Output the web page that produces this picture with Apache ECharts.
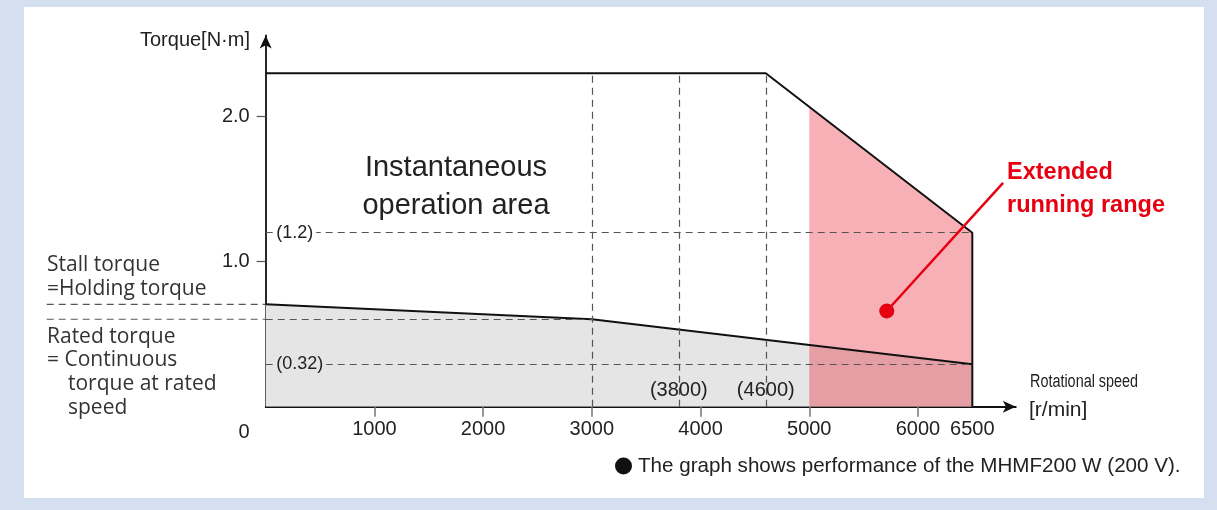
<!DOCTYPE html>
<html><head><meta charset="utf-8">
<script src="https://cdn.jsdelivr.net/npm/echarts@6/dist/echarts.min.js"></script>
<style>html,body{margin:0;padding:0;background:#d4dff0;}#c{width:1217px;height:510px;}</style>
</head><body><div id="c"></div>
<script>
// ---- data ----
const peakCurve = [[0, 2.3], [4600, 2.3], [6500, 1.2], [6500, 0]];
const continuousCurve = [[0, 0.706], [3000, 0.603], [6500, 0.292]];
const extendedRange = [[5000, 2.068], [6500, 1.2]];
const speedMarks = [3000, 3800, 4600];
const speedMarkLabels = [null, '(3800)', '(4600)'];
const xTickLabels = [1000, 2000, 3000, 4000, 5000, 6000, 6500];
const xTicks = [1000, 2000, 3000, 4000, 5000, 6000];
const yTickLabels = [1.0, 2.0];
const peakTorque = 2.3;
const stallTorque = 0.706;
const ratedTorque = 0.603;
const ratedSpeed = 3000;
const maxSpeed = 6500;
const refTorques = [1.2, 0.292];
const refTorqueLabels = ['(1.2)', '(0.32)'];
const calloutFrom = [5713, 0.66];
const calloutTo = [6783, 1.543];

// ---- styles ----
const FONT = "'Liberation Sans', Arial, sans-serif";
const HUM = "'Open Sans', 'Noto Sans', sans-serif";
const RED = '#e60012';
const DASH = {color: '#555', width: 1.2, type: [7, 5]};
const X_MAX = 6900, Y_MAX = 2.56;
const grid = {left: 265.7, top: 35.5, bottom: 103.3, width: 750.1};

const dashedLines = [];
speedMarks.forEach(s => dashedLines.push([{coord: [s, 0]}, {coord: [s, peakTorque]}]));
refTorques.forEach(t => dashedLines.push([{coord: [0, t]}, {coord: [maxSpeed, t]}]));
dashedLines.push([{coord: [0, ratedTorque]}, {coord: [ratedSpeed, ratedTorque]}]);

const labelPoints = [];
speedMarks.forEach((s, i) => {
  if (speedMarkLabels[i]) labelPoints.push({coord: [s, 0.115], label: {formatter: speedMarkLabels[i], position: 'inside'}});
});
refTorques.forEach((t, i) => {
  labelPoints.push({coord: [0, t], label: {formatter: refTorqueLabels[i], position: 'right', distance: 7,
    backgroundColor: i === 0 ? '#fff' : '#e5e5e5', padding: [0, 3], fontSize: 18}});
});

const chart = echarts.init(document.getElementById('c'), null, {renderer: 'canvas'});
chart.setOption({
  animation: false,
  backgroundColor: '#d4dff0',
  textStyle: {fontFamily: FONT},
  grid: [
    Object.assign({}, grid),
    {left: 46.7, top: 35.5, bottom: 103.3, width: 219}
  ],
  xAxis: [{
    type: 'value', min: 0, max: X_MAX, gridIndex: 0,
    axisLine: {lineStyle: {color: '#111', width: 1.8}, symbol: ['none', 'arrow'], symbolSize: [9, 13]},
    axisTick: {show: true, customValues: xTicks, length: 10, lineStyle: {color: '#777', width: 1.5}},
    axisLabel: {customValues: xTickLabels, fontSize: 20, color: '#222', margin: 13, fontFamily: FONT,
      formatter: v => String(v)},
    splitLine: {show: false}
  }, {
    type: 'value', min: 0, max: 1, gridIndex: 1, show: false
  }],
  yAxis: [{
    type: 'value', min: 0, max: Y_MAX, gridIndex: 0,
    axisLine: {show: true, lineStyle: {color: '#111', width: 1.8}, symbol: ['none', 'arrow'], symbolSize: [9, 13]},
    axisTick: {show: true, customValues: yTickLabels, length: 9, lineStyle: {color: '#555', width: 1.2}},
    axisLabel: {customValues: yTickLabels, fontSize: 20, color: '#222', margin: 16, fontFamily: FONT,
      formatter: v => v.toFixed(1)},
    splitLine: {show: false}
  }, {
    type: 'value', min: 0, max: Y_MAX, gridIndex: 1, show: false
  }],
  graphic: [
    {type: 'rect', z: -10, silent: true, shape: {x: 24, y: 7, width: 1180, height: 491}, style: {fill: '#fff'}},
    {type: 'text', x: 250, y: 40, style: {text: 'Torque[N·m]', font: `20px ${FONT}`, fill: '#222', align: 'right', verticalAlign: 'middle'}},
    {type: 'text', x: 244, y: 432, style: {text: '0', font: `20px ${FONT}`, fill: '#222', align: 'center', verticalAlign: 'middle'}},
    {type: 'text', x: 1030, y: 382, scaleX: 0.8, style: {text: 'Rotational speed', font: `18px ${FONT}`, fill: '#222', align: 'left', verticalAlign: 'middle'}},
    {type: 'text', x: 1029, y: 410, style: {text: '[r/min]', font: `21px ${FONT}`, fill: '#222', align: 'left', verticalAlign: 'middle'}},
    {type: 'text', x: 456, y: 187, style: {text: 'Instantaneous\noperation area', font: `29px ${FONT}`, lineHeight: 38, fill: '#222', align: 'center', verticalAlign: 'middle'}},
    {type: 'text', x: 457, y: 366.5, style: {text: 'Continuous\noperation area', font: `29px ${FONT}`, lineHeight: 37, fill: '#222', align: 'center', verticalAlign: 'middle'}},
    {type: 'text', x: 1007, y: 189.5, style: {text: 'Extended\nrunning range', font: `bold 23.5px ${FONT}`, lineHeight: 33, fill: RED, align: 'left', verticalAlign: 'middle'}},
    {type: 'text', x: 47, y: 265, style: {text: 'Stall torque', font: `21px ${HUM}`, fill: '#333', verticalAlign: 'middle'}},
    {type: 'text', x: 47, y: 289, style: {text: '=Holding torque', font: `21px ${HUM}`, fill: '#333', verticalAlign: 'middle'}},
    {type: 'text', x: 47, y: 337, style: {text: 'Rated torque', font: `21px ${HUM}`, fill: '#333', verticalAlign: 'middle'}},
    {type: 'text', x: 47, y: 360, style: {text: '= Continuous', font: `21px ${HUM}`, fill: '#333', verticalAlign: 'middle'}},
    {type: 'text', x: 68, y: 384, style: {text: 'torque at rated', font: `21px ${HUM}`, fill: '#333', verticalAlign: 'middle'}},
    {type: 'text', x: 68, y: 408, style: {text: 'speed', font: `21px ${HUM}`, fill: '#333', verticalAlign: 'middle'}},
    {type: 'circle', shape: {cx: 623.5, cy: 466, r: 8.5}, style: {fill: '#111'}},
    {type: 'text', x: 638, y: 466, style: {text: 'The graph shows performance of the MHMF200 W (200 V).', font: `20.6px ${FONT}`, fill: '#222', verticalAlign: 'middle'}}
  ],
  series: [
    {name: 'continuousArea', type: 'line', z: 1, data: continuousCurve, symbol: 'none', lineStyle: {width: 0},
      areaStyle: {color: '#e5e5e5', opacity: 1}, silent: true},
    {name: 'extended', type: 'line', z: 2, data: extendedRange, symbol: 'none', lineStyle: {width: 0},
      areaStyle: {color: 'rgba(230,0,18,0.31)', opacity: 1}, silent: true},
    {name: 'continuous', type: 'line', z: 4, data: continuousCurve, symbol: 'none', lineStyle: {color: '#111', width: 2}, silent: true},
    {name: 'peak', type: 'line', z: 4, data: peakCurve, symbol: 'none', lineStyle: {color: '#111', width: 2}, silent: true},
    {name: 'guides', type: 'line', z: 6, data: [], symbol: 'none', silent: true,
      markLine: {silent: true, z: 6, symbol: ['none', 'none'], lineStyle: DASH, label: {show: false}, data: dashedLines},
      markPoint: {silent: true, z: 7, symbol: 'circle', symbolSize: 1, itemStyle: {color: 'rgba(0,0,0,0)'},
        label: {show: true, fontSize: 20, color: '#222', fontFamily: FONT}, data: labelPoints}},
    {name: 'callout', type: 'line', z: 8, data: [], symbol: 'none', silent: true,
      markLine: {silent: true, z: 8, symbol: ['circle', 'none'], symbolSize: 15, lineStyle: {color: RED, width: 2.5, type: 'solid'},
        itemStyle: {color: RED}, label: {show: false},
        data: [[{coord: calloutFrom}, {coord: calloutTo}]]}},
    {name: 'stallLeft', type: 'line', xAxisIndex: 1, yAxisIndex: 1, data: [[0, stallTorque], [1, stallTorque]],
      symbol: 'none', lineStyle: DASH, silent: true},
    {name: 'ratedLeft', type: 'line', xAxisIndex: 1, yAxisIndex: 1, data: [[0, ratedTorque], [1, ratedTorque]],
      symbol: 'none', lineStyle: DASH, silent: true}
  ]
});
</script>
</body></html>
